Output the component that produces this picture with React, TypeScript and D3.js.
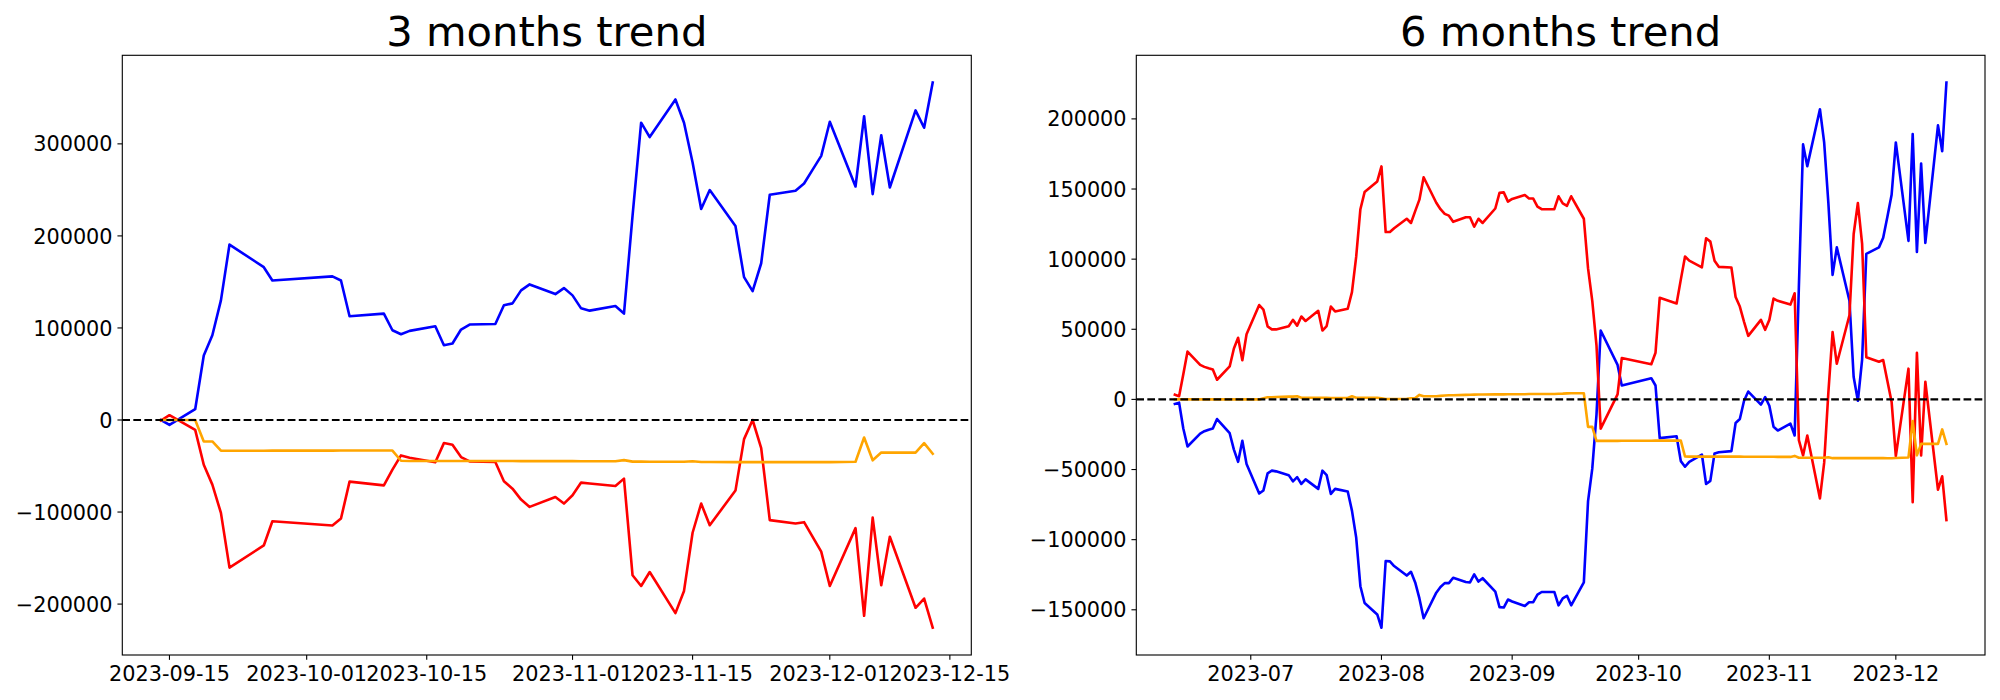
import React from "react";
import * as d3 from "d3";

// ---------- 3 months data ----------
const DATES_3M = [
  "2023-09-14", "2023-09-15", "2023-09-18", "2023-09-19", "2023-09-20", "2023-09-21", "2023-09-22", "2023-09-26", "2023-09-27",
  "2023-10-04", "2023-10-05", "2023-10-06", "2023-10-10", "2023-10-11", "2023-10-12", "2023-10-13", "2023-10-16", "2023-10-17",
  "2023-10-18", "2023-10-19", "2023-10-20", "2023-10-23", "2023-10-24", "2023-10-25", "2023-10-26", "2023-10-27", "2023-10-30", "2023-10-31",
  "2023-11-01", "2023-11-02", "2023-11-03", "2023-11-06", "2023-11-07", "2023-11-08", "2023-11-09", "2023-11-10", "2023-11-13",
  "2023-11-14", "2023-11-15", "2023-11-16", "2023-11-17", "2023-11-20", "2023-11-21", "2023-11-22", "2023-11-23", "2023-11-24",
  "2023-11-27", "2023-11-28", "2023-11-29", "2023-11-30",
  "2023-12-01", "2023-12-04", "2023-12-05", "2023-12-06", "2023-12-07", "2023-12-08", "2023-12-11", "2023-12-12", "2023-12-13",
];
const BLUE_3M = [
  0, -5300, 11700, 70000, 92000, 130000, 190600, 166000, 151600,
  156000, 151600, 112700, 115600, 97500, 93200, 96800, 101800, 81300,
  83100, 98300, 103700, 104300, 124600, 126700, 140800, 147300, 136800, 143300,
  135400, 121300, 118800, 123800, 115600, 222000, 323000, 307400, 348200,
  323000, 279700, 229200, 249800, 210800, 155200, 140000, 170300, 244700,
  249000, 257000, 272000, 287000,
  324000, 253700, 330000, 245400, 309300, 252600, 336300, 317500, 366600,
];
const RED_3M = [
  -600, 5200, -10700, -48600, -70200, -100900, -160400, -136300, -110000,
  -114600, -107000, -67000, -71000, -54000, -38500, -41000, -46000, -25100,
  -27000, -40300, -45000, -45700, -66600, -74600, -86500, -94400, -83600, -90800,
  -81800, -68000, -69000, -71700, -63700, -168700, -180300, -165200, -209800,
  -185700, -122500, -90800, -114300, -76700, -20800, 0, -30500, -108800,
  -112400, -111000, -126900, -143000,
  -180300, -117500, -212700, -106000, -179500, -126900, -204000, -194000, -225700,
];
const ORANGE_3M = [
  0, 0, 0, -23300, -23300, -33400, -33400, -33400, -33300,
  -33300, -33200, -33200, -33200, -33200, -44300, -44500, -44500, -44500,
  -44500, -44500, -44600, -44600, -44600, -44600, -44700, -44700, -44700, -44700,
  -44700, -44800, -44800, -44800, -43600, -45200, -45200, -45300, -45400,
  -45400, -44900, -45700, -45700, -45800, -45800, -45800, -45800, -45800,
  -45800, -45800, -45800, -45800,
  -45800, -45300, -19000, -43800, -35300, -35500, -35500, -25100, -36700,
];

// ---------- 6 months data ----------
const DATES_6M = [
  "2023-06-13", "2023-06-14", "2023-06-15", "2023-06-16", "2023-06-19", "2023-06-20", "2023-06-21", "2023-06-22", "2023-06-23",
  "2023-06-26", "2023-06-27", "2023-06-28", "2023-06-29", "2023-06-30",
  "2023-07-03", "2023-07-04", "2023-07-05", "2023-07-06", "2023-07-07", "2023-07-10", "2023-07-11", "2023-07-12", "2023-07-13",
  "2023-07-14", "2023-07-17", "2023-07-18", "2023-07-19", "2023-07-20", "2023-07-21", "2023-07-24", "2023-07-25", "2023-07-26",
  "2023-07-27", "2023-07-28", "2023-07-31",
  "2023-08-01", "2023-08-02", "2023-08-03", "2023-08-04", "2023-08-07", "2023-08-08", "2023-08-09", "2023-08-10", "2023-08-11",
  "2023-08-14", "2023-08-15", "2023-08-16", "2023-08-17", "2023-08-18", "2023-08-21", "2023-08-22", "2023-08-23", "2023-08-24",
  "2023-08-25", "2023-08-28", "2023-08-29", "2023-08-30", "2023-08-31",
  "2023-09-01", "2023-09-04", "2023-09-05", "2023-09-06", "2023-09-07", "2023-09-08", "2023-09-11", "2023-09-12", "2023-09-13",
  "2023-09-14", "2023-09-15", "2023-09-18", "2023-09-19", "2023-09-20", "2023-09-21", "2023-09-22", "2023-09-26", "2023-09-27",
  "2023-10-04", "2023-10-05", "2023-10-06", "2023-10-10", "2023-10-11", "2023-10-12", "2023-10-13", "2023-10-16", "2023-10-17",
  "2023-10-18", "2023-10-19", "2023-10-20", "2023-10-23", "2023-10-24", "2023-10-25", "2023-10-26", "2023-10-27", "2023-10-30", "2023-10-31",
  "2023-11-01", "2023-11-02", "2023-11-03", "2023-11-06", "2023-11-07", "2023-11-08", "2023-11-09", "2023-11-10", "2023-11-13",
  "2023-11-14", "2023-11-15", "2023-11-16", "2023-11-17", "2023-11-20", "2023-11-21", "2023-11-22", "2023-11-23", "2023-11-24",
  "2023-11-27", "2023-11-28", "2023-11-29", "2023-11-30",
  "2023-12-01", "2023-12-04", "2023-12-05", "2023-12-06", "2023-12-07", "2023-12-08", "2023-12-11", "2023-12-12", "2023-12-13",
];
const BLUE_6M = [
  -3200, -2300, -20800, -33600, -24400, -22700, -21600, -20800, -14000,
  -24100, -35800, -44500, -29500, -46100,
  -67100, -64900, -52700, -50800, -51300, -54000, -58400, -55400, -60300,
  -57000, -63800, -50800, -54000, -67400, -63800, -65700, -79300, -98400,
  -133200, -145200, -153300,
  -162800, -115200, -115500, -118800, -125600, -122900, -130500, -141900, -156000,
  -137800, -133700, -131000, -131000, -127200, -130200, -130500, -124700, -129900,
  -127500, -137000, -148100, -148400, -142700,
  -144100, -147300, -144600, -144600, -139200, -137300, -137300, -146800, -141900,
  -140000, -146800, -130500, -72500, -49400, -11000, 49100, 24600, 9900,
  15100, 9900, -27600, -26300, -44000, -48000, -44500, -39300, -60300,
  -58100, -38500, -37700, -36900, -16800, -14000, -1000, 5600, -3700, 1700,
  -4500, -19500, -22200, -17300, -25700, 80000, 181800, 166300, 206900,
  183200, 140000, 88800, 108400, 70300, 15900, -1000, 28100, 103800,
  108400, 115200, 130200, 145900,
  183200, 113000, 189200, 105100, 168200, 111600, 195400, 176900, 225900,
];
const RED_6M = [
  3400, 2300, 18000, 34100, 24600, 23200, 22200, 21300, 14000,
  23500, 36300, 43900, 27900, 46400,
  67300, 64000, 52100, 49900, 49900, 52100, 56700, 52600, 59100,
  55900, 63200, 49100, 52300, 66200, 62700, 64600, 76500, 101600,
  135600, 147800, 155400,
  166100, 119300, 119300, 122000, 128800, 125800, 134200, 142400, 158400,
  140200, 135600, 132300, 131000, 126600, 129900, 129900, 123100, 128800,
  125800, 136100, 147300, 147600, 141000,
  142900, 145700, 143200, 143200, 137500, 135600, 135600, 144800, 139700,
  138000, 144800, 128800, 93400, 70300, 38600, -20800, 3600, 29500,
  25100, 33300, 72500, 68400, 85400, 101900, 98900, 94200, 114900,
  112500, 98900, 94500, 94000, 73000, 66200, 55300, 45300, 56700, 49600,
  56700, 71900, 70300, 67600, 75700, -29000, -39900, -25700, -70600,
  -45300, 5000, 48000, 25400, 60000, 117900, 140000, 111100, 30000,
  26800, 28100, 13200, -1800,
  -40400, 21900, -73300, 33300, -39900, 12600, -64400, -54800, -86100,
];
const ORANGE_6M = [
  0, 0, 0, 0, 0, 0, 0, 0, 0,
  0, 0, 0, 0, 0,
  0, 800, 1500, 1500, 1700, 2000, 2000, 2200, 1200,
  1200, 1200, 1200, 1200, 1000, 1000, 1000, 2200, 1200,
  1200, 1200, 1200,
  800, 300, 300, 300, 500, 800, 1000, 3200, 2200,
  2200, 2500, 2800, 3000, 3000, 3200, 3300, 3400, 3500,
  3500, 3600, 3600, 3600, 3700,
  3700, 3700, 3800, 3800, 3800, 3900, 3900, 4000, 4100,
  4300, 4400, 4400, -19600, -19600, -29600, -29600, -29600, -29500,
  -29500, -29400, -29400, -29400, -29400, -40700, -40800, -40800, -40800,
  -40800, -40800, -40800, -40800, -40800, -40800, -40900, -40900, -40900, -40900,
  -40900, -40900, -41000, -41000, -40300, -41600, -41600, -41600, -41600,
  -41600, -41200, -41900, -41900, -41900, -41900, -41900, -41900, -41900,
  -41900, -41900, -42000, -42000,
  -41800, -41400, -15400, -39900, -31700, -31700, -31700, -21400, -31700,
];

// ---------- ticks ----------
const Y_TICKS_3M = [-200000, -100000, 0, 100000, 200000, 300000];
const X_TICKS_3M = ["2023-09-15", "2023-10-01", "2023-10-15", "2023-11-01", "2023-11-15", "2023-12-01", "2023-12-15"];
const Y_TICKS_6M = [-150000, -100000, -50000, 0, 50000, 100000, 150000, 200000];
const X_TICKS_6M = ["2023-07-01", "2023-08-01", "2023-09-01", "2023-10-01", "2023-11-01", "2023-12-01"];

const SERIES_COLORS = ["#0000ff", "#ff0000", "#ffa500"];

const parse = d3.utcParse("%Y-%m-%d");
const FONT = "DejaVu Sans, Verdana, sans-serif";
const TICK_FS = 20.8;
const TICK_LEN = 4.86;
const TICK_PAD = 4.86;

type PanelProps = {
  left: number;
  right: number;
  top: number;
  bottom: number;
  title: string;
  dates: string[];
  series: number[][];
  yTicks: number[];
  xTicks: string[];
  xFormat: (d: Date) => string;
};

function Panel(p: PanelProps) {
  const dates = p.dates.map((d) => parse(d) as Date);
  const [tMin, tMax] = d3.extent(dates) as [Date, Date];
  const tSpan = tMax.getTime() - tMin.getTime();
  const x = d3
    .scaleUtc()
    .domain([new Date(tMin.getTime() - 0.05 * tSpan), new Date(tMax.getTime() + 0.05 * tSpan)])
    .range([p.left, p.right]);
  const all = p.series.flat();
  const vMin = d3.min(all) as number;
  const vMax = d3.max(all) as number;
  const vSpan = vMax - vMin;
  const y = d3
    .scaleLinear()
    .domain([vMin - 0.05 * vSpan, vMax + 0.05 * vSpan])
    .range([p.bottom, p.top]);
  const line = d3
    .line<number>()
    .x((_, i) => x(dates[i]))
    .y((v) => y(v));
  const cx = (p.left + p.right) / 2;
  return (
    <g>
      <text x={cx} y={p.top - 9.5} textAnchor="middle" fontSize={41.7} fontFamily={FONT} fill="#000">
        {p.title}
      </text>
      {p.series.map((s, i) => (
        <path
          key={i}
          d={line(s) || ""}
          fill="none"
          stroke={SERIES_COLORS[i]}
          strokeWidth={2.6}
          strokeLinejoin="round"
          strokeLinecap="square"
        />
      ))}
      <line
        x1={p.left}
        x2={p.right}
        y1={y(0)}
        y2={y(0)}
        stroke="#000"
        strokeWidth={2.08}
        strokeDasharray="7.7 3.33"
      />
      <rect
        x={p.left}
        y={p.top}
        width={p.right - p.left}
        height={p.bottom - p.top}
        fill="none"
        stroke="#000"
        strokeWidth={1.11}
      />
      {p.yTicks.map((t) => (
        <g key={"y" + t}>
          <line x1={p.left - TICK_LEN} x2={p.left} y1={y(t)} y2={y(t)} stroke="#000" strokeWidth={1.11} />
          <text
            x={p.left - TICK_LEN - TICK_PAD}
            y={y(t) + 7.6}
            textAnchor="end"
            fontSize={TICK_FS}
            fontFamily={FONT}
            fill="#000"
          >
            {t < 0 ? "\u2212" + Math.abs(t) : String(t)}
          </text>
        </g>
      ))}
      {p.xTicks.map((t) => {
        const d = parse(t) as Date;
        const px = x(d);
        return (
          <g key={"x" + t}>
            <line x1={px} x2={px} y1={p.bottom} y2={p.bottom + TICK_LEN} stroke="#000" strokeWidth={1.11} />
            <text x={px} y={p.bottom + 26} textAnchor="middle" fontSize={TICK_FS} fontFamily={FONT} fill="#000">
              {p.xFormat(d)}
            </text>
          </g>
        );
      })}
    </g>
  );
}

export default function App() {
  const fmtDay = d3.utcFormat("%Y-%m-%d");
  const fmtMonth = d3.utcFormat("%Y-%m");
  return (
    <div style={{ position: "absolute", left: 0, top: 0 }}>
      <svg width={2000} height={700} style={{ display: "block", background: "#fff" }}>
        <rect x={0} y={0} width={2000} height={700} fill="#fff" />
        <Panel
          left={122.3}
          right={971.3}
          top={55.3}
          bottom={655}
          title="3 months trend"
          dates={DATES_3M}
          series={[BLUE_3M, RED_3M, ORANGE_3M]}
          yTicks={Y_TICKS_3M}
          xTicks={X_TICKS_3M}
          xFormat={fmtDay}
        />
        <Panel
          left={1136.3}
          right={1985}
          top={55.3}
          bottom={655}
          title="6 months trend"
          dates={DATES_6M}
          series={[BLUE_6M, RED_6M, ORANGE_6M]}
          yTicks={Y_TICKS_6M}
          xTicks={X_TICKS_6M}
          xFormat={fmtMonth}
        />
      </svg>
    </div>
  );
}
